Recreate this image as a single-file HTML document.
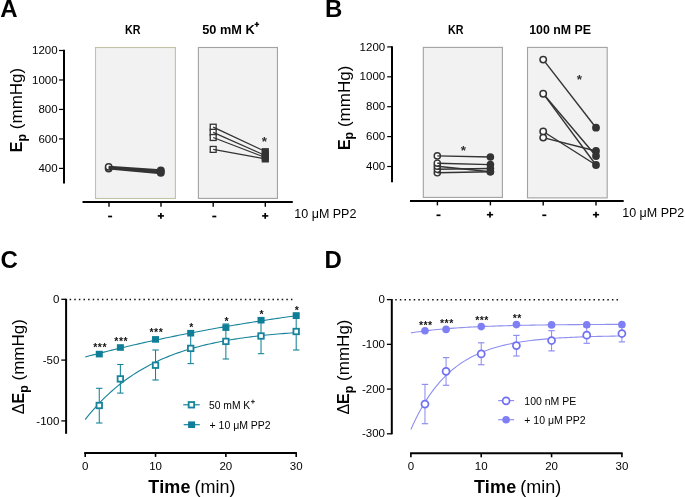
<!DOCTYPE html>
<html><head><meta charset="utf-8"><style>
html,body{margin:0;padding:0;background:#fff;}
svg{display:block;font-family:"Liberation Sans", sans-serif;}
</style></head><body>
<svg width="685" height="497" viewBox="0 0 685 497">
<rect width="685" height="497" fill="#fff"/>
<g opacity="0.999">
<text x="0.30" y="17.10" font-size="24" text-anchor="start" font-weight="bold" fill="#000" >A</text>
<line x1="64.00" y1="49.80" x2="64.00" y2="183.50" stroke="#000" stroke-width="2" />
<line x1="59.00" y1="168.40" x2="64.00" y2="168.40" stroke="#000" stroke-width="1.2" />
<text x="57.60" y="172.00" font-size="11.5" text-anchor="end" font-weight="normal" fill="#000" >400</text>
<line x1="59.00" y1="138.93" x2="64.00" y2="138.93" stroke="#000" stroke-width="1.2" />
<text x="57.60" y="142.53" font-size="11.5" text-anchor="end" font-weight="normal" fill="#000" >600</text>
<line x1="59.00" y1="109.45" x2="64.00" y2="109.45" stroke="#000" stroke-width="1.2" />
<text x="57.60" y="113.05" font-size="11.5" text-anchor="end" font-weight="normal" fill="#000" >800</text>
<line x1="59.00" y1="79.98" x2="64.00" y2="79.98" stroke="#000" stroke-width="1.2" />
<text x="57.60" y="83.58" font-size="11.5" text-anchor="end" font-weight="normal" fill="#000" >1000</text>
<line x1="59.00" y1="50.50" x2="64.00" y2="50.50" stroke="#000" stroke-width="1.2" />
<text x="57.60" y="54.10" font-size="11.5" text-anchor="end" font-weight="normal" fill="#000" >1200</text>
<rect x="95.5" y="47.5" width="79.9" height="151" fill="#f2f2f2" stroke="#c2c2a6" stroke-width="1.1"/>
<rect x="198.4" y="47.5" width="79.05" height="150.9" fill="#f2f2f2" stroke="#a2a2a2" stroke-width="1.1"/>
<text x="125.00" y="33.90" font-size="13" text-anchor="start" font-weight="bold" fill="#000" textLength="15.5" lengthAdjust="spacingAndGlyphs">KR</text>
<text x="202.20" y="33.90" font-size="13" text-anchor="start" font-weight="bold" fill="#000" textLength="52.5" lengthAdjust="spacingAndGlyphs">50 mM K</text>
<rect x="254.60" y="23.65" width="4.50" height="1.40" fill="#000"/>
<rect x="256.15" y="21.90" width="1.40" height="4.90" fill="#000"/>
<line x1="82.50" y1="202.00" x2="292.80" y2="202.00" stroke="#000" stroke-width="2" />
<line x1="109.00" y1="202.00" x2="109.00" y2="206.80" stroke="#000" stroke-width="1.4" />
<line x1="161.00" y1="202.00" x2="161.00" y2="206.80" stroke="#000" stroke-width="1.4" />
<line x1="213.20" y1="202.00" x2="213.20" y2="206.80" stroke="#000" stroke-width="1.4" />
<line x1="265.30" y1="202.00" x2="265.30" y2="206.80" stroke="#000" stroke-width="1.4" />
<rect x="108.10" y="215.65" width="4.00" height="1.70" fill="#000"/>
<rect x="157.80" y="215.10" width="6.20" height="1.60" fill="#000"/>
<rect x="160.05" y="213.00" width="1.70" height="5.80" fill="#000"/>
<rect x="212.30" y="215.65" width="4.00" height="1.70" fill="#000"/>
<rect x="262.10" y="215.10" width="6.20" height="1.60" fill="#000"/>
<rect x="264.35" y="213.00" width="1.70" height="5.80" fill="#000"/>
<text x="294.30" y="218.00" font-size="12.5" text-anchor="start" font-weight="normal" fill="#000" >10 &#956;M PP2</text>
<circle cx="108.7" cy="168.5" r="3.2" fill="#fbfbfb" stroke="#333" stroke-width="1.5"/>
<circle cx="108.7" cy="166.9" r="3.2" fill="#fbfbfb" stroke="#333" stroke-width="1.5"/>
<line x1="108.70" y1="166.80" x2="160.80" y2="170.30" stroke="#333" stroke-width="2.1" />
<line x1="108.70" y1="167.60" x2="160.80" y2="171.80" stroke="#333" stroke-width="2.1" />
<line x1="108.70" y1="168.50" x2="160.80" y2="173.30" stroke="#333" stroke-width="2.1" />
<circle cx="160.8" cy="170.5" r="4" fill="#333"/>
<circle cx="160.8" cy="172.8" r="4" fill="#333"/>
<rect x="210.25" y="124.25" width="5.9" height="5.9" fill="#fbfbfb" stroke="#333" stroke-width="1.3"/>
<rect x="210.25" y="129.35" width="5.9" height="5.9" fill="#fbfbfb" stroke="#333" stroke-width="1.3"/>
<rect x="210.25" y="134.55" width="5.9" height="5.9" fill="#fbfbfb" stroke="#333" stroke-width="1.3"/>
<rect x="210.25" y="146.45" width="5.9" height="5.9" fill="#fbfbfb" stroke="#333" stroke-width="1.3"/>
<line x1="213.20" y1="127.20" x2="265.30" y2="151.50" stroke="#333" stroke-width="1.3" />
<line x1="213.20" y1="132.30" x2="265.30" y2="155.50" stroke="#333" stroke-width="1.3" />
<line x1="213.20" y1="137.50" x2="265.30" y2="157.50" stroke="#333" stroke-width="1.3" />
<line x1="213.20" y1="149.40" x2="265.30" y2="158.80" stroke="#333" stroke-width="1.3" />
<rect x="261.70" y="148.10" width="7.20" height="7.20" fill="#333"/>
<rect x="261.70" y="150.90" width="7.20" height="7.20" fill="#333"/>
<rect x="261.70" y="153.40" width="7.20" height="7.20" fill="#333"/>
<rect x="261.70" y="155.30" width="7.20" height="7.20" fill="#333"/>
<text x="264.40" y="146.07" font-size="13.5" text-anchor="middle" font-weight="bold" fill="#333" letter-spacing="0">*</text>
<text transform="translate(22.2,152.2) rotate(-90)" font-size="17"><tspan font-weight="bold" font-size="16">E</tspan><tspan font-weight="bold" font-size="12.5" dy="3.3">p</tspan><tspan dy="-3.3"> (mmHg)</tspan></text>
<text x="325.00" y="17.00" font-size="24" text-anchor="start" font-weight="bold" fill="#000" >B</text>
<line x1="392.00" y1="46.20" x2="392.00" y2="182.20" stroke="#000" stroke-width="2" />
<line x1="387.20" y1="166.50" x2="392.00" y2="166.50" stroke="#000" stroke-width="1.2" />
<text x="385.20" y="170.10" font-size="11.5" text-anchor="end" font-weight="normal" fill="#000" >400</text>
<line x1="387.20" y1="136.60" x2="392.00" y2="136.60" stroke="#000" stroke-width="1.2" />
<text x="385.20" y="140.20" font-size="11.5" text-anchor="end" font-weight="normal" fill="#000" >600</text>
<line x1="387.20" y1="106.70" x2="392.00" y2="106.70" stroke="#000" stroke-width="1.2" />
<text x="385.20" y="110.30" font-size="11.5" text-anchor="end" font-weight="normal" fill="#000" >800</text>
<line x1="387.20" y1="76.80" x2="392.00" y2="76.80" stroke="#000" stroke-width="1.2" />
<text x="385.20" y="80.40" font-size="11.5" text-anchor="end" font-weight="normal" fill="#000" >1000</text>
<line x1="387.20" y1="46.90" x2="392.00" y2="46.90" stroke="#000" stroke-width="1.2" />
<text x="385.20" y="50.50" font-size="11.5" text-anchor="end" font-weight="normal" fill="#000" >1200</text>
<rect x="423.3" y="47.4" width="79.1" height="150" fill="#f2f2f2" stroke="#a2a2a2" stroke-width="1.1"/>
<rect x="527.5" y="47.4" width="79.7" height="150.5" fill="#f2f2f2" stroke="#a2a2a2" stroke-width="1.1"/>
<text x="447.90" y="34.20" font-size="13" text-anchor="start" font-weight="bold" fill="#000" textLength="15.5" lengthAdjust="spacingAndGlyphs">KR</text>
<text x="529.20" y="33.90" font-size="13" text-anchor="start" font-weight="bold" fill="#000" textLength="61.8" lengthAdjust="spacingAndGlyphs">100 nM PE</text>
<line x1="410.00" y1="200.90" x2="623.70" y2="200.90" stroke="#000" stroke-width="2" />
<line x1="437.40" y1="200.90" x2="437.40" y2="205.40" stroke="#000" stroke-width="1.4" />
<line x1="490.40" y1="200.90" x2="490.40" y2="205.40" stroke="#000" stroke-width="1.4" />
<line x1="543.20" y1="200.90" x2="543.20" y2="205.40" stroke="#000" stroke-width="1.4" />
<line x1="596.00" y1="200.90" x2="596.00" y2="205.40" stroke="#000" stroke-width="1.4" />
<rect x="436.50" y="214.45" width="4.00" height="1.70" fill="#000"/>
<rect x="486.90" y="213.90" width="6.20" height="1.60" fill="#000"/>
<rect x="489.15" y="211.80" width="1.70" height="5.80" fill="#000"/>
<rect x="542.30" y="214.45" width="4.00" height="1.70" fill="#000"/>
<rect x="592.90" y="213.90" width="6.20" height="1.60" fill="#000"/>
<rect x="595.15" y="211.80" width="1.70" height="5.80" fill="#000"/>
<text x="622.20" y="216.70" font-size="12.5" text-anchor="start" font-weight="normal" fill="#000" >10 &#956;M PP2</text>
<circle cx="437.3" cy="172.8" r="3.1" fill="#fbfbfb" stroke="#333" stroke-width="1.4"/>
<circle cx="437.3" cy="169.3" r="3.1" fill="#fbfbfb" stroke="#333" stroke-width="1.4"/>
<circle cx="437.3" cy="166.3" r="3.1" fill="#fbfbfb" stroke="#333" stroke-width="1.4"/>
<circle cx="437.3" cy="163.2" r="3.1" fill="#fbfbfb" stroke="#333" stroke-width="1.4"/>
<circle cx="437.3" cy="155.9" r="3.1" fill="#fbfbfb" stroke="#333" stroke-width="1.4"/>
<line x1="437.30" y1="155.90" x2="490.40" y2="157.00" stroke="#333" stroke-width="1.4" />
<line x1="437.30" y1="163.20" x2="490.40" y2="164.60" stroke="#333" stroke-width="1.4" />
<line x1="437.30" y1="166.30" x2="490.40" y2="171.80" stroke="#333" stroke-width="1.4" />
<line x1="437.30" y1="169.30" x2="490.40" y2="168.50" stroke="#333" stroke-width="1.4" />
<line x1="437.30" y1="172.80" x2="490.40" y2="171.80" stroke="#333" stroke-width="1.4" />
<circle cx="490.4" cy="157" r="3.8" fill="#333"/>
<circle cx="490.4" cy="164.6" r="3.8" fill="#333"/>
<circle cx="490.4" cy="171.8" r="3.8" fill="#333"/>
<circle cx="490.4" cy="168.5" r="3.8" fill="#333"/>
<circle cx="490.4" cy="171.8" r="3.8" fill="#333"/>
<text x="463.30" y="155.27" font-size="13.5" text-anchor="middle" font-weight="bold" fill="#333" letter-spacing="0">*</text>
<line x1="543.20" y1="59.60" x2="596.00" y2="127.70" stroke="#333" stroke-width="1.4" />
<line x1="543.20" y1="93.70" x2="596.00" y2="156.00" stroke="#333" stroke-width="1.4" />
<line x1="543.20" y1="93.70" x2="596.00" y2="165.00" stroke="#333" stroke-width="1.4" />
<line x1="543.20" y1="131.50" x2="596.00" y2="165.00" stroke="#333" stroke-width="1.4" />
<line x1="543.20" y1="137.60" x2="596.00" y2="151.00" stroke="#333" stroke-width="1.4" />
<circle cx="543.2" cy="59.6" r="3.2" fill="#fbfbfb" stroke="#333" stroke-width="1.5"/>
<circle cx="543.2" cy="93.7" r="3.2" fill="#fbfbfb" stroke="#333" stroke-width="1.5"/>
<circle cx="543.2" cy="131.5" r="3.2" fill="#fbfbfb" stroke="#333" stroke-width="1.5"/>
<circle cx="543.2" cy="137.6" r="3.2" fill="#fbfbfb" stroke="#333" stroke-width="1.5"/>
<circle cx="596" cy="127.7" r="3.9" fill="#333"/>
<circle cx="596" cy="151" r="3.9" fill="#333"/>
<circle cx="596" cy="156" r="3.9" fill="#333"/>
<circle cx="596" cy="165" r="3.9" fill="#333"/>
<text x="579.40" y="84.17" font-size="13.5" text-anchor="middle" font-weight="bold" fill="#333" letter-spacing="0">*</text>
<text transform="translate(349.6,150.1) rotate(-90)" font-size="17"><tspan font-weight="bold" font-size="16">E</tspan><tspan font-weight="bold" font-size="12.5" dy="3.3">p</tspan><tspan dy="-3.3"> (mmHg)</tspan></text>
<text x="0.40" y="267.80" font-size="24" text-anchor="start" font-weight="bold" fill="#000" >C</text>
<line x1="66.10" y1="298.80" x2="66.10" y2="433.80" stroke="#000" stroke-width="2" />
<line x1="61.30" y1="299.30" x2="66.10" y2="299.30" stroke="#000" stroke-width="1.3" />
<text x="59.40" y="302.90" font-size="11.5" text-anchor="end" font-weight="normal" fill="#000" >0</text>
<line x1="61.30" y1="360.10" x2="66.10" y2="360.10" stroke="#000" stroke-width="1.3" />
<text x="59.40" y="363.70" font-size="11.5" text-anchor="end" font-weight="normal" fill="#000" >-50</text>
<line x1="61.30" y1="420.90" x2="66.10" y2="420.90" stroke="#000" stroke-width="1.3" />
<text x="59.40" y="424.50" font-size="11.5" text-anchor="end" font-weight="normal" fill="#000" >-100</text>
<line x1="69.65" y1="299.4" x2="292.55" y2="299.4" stroke="#111" stroke-width="1.5" stroke-dasharray="1.5 3.11"/>
<line x1="84.20" y1="453.10" x2="296.90" y2="453.10" stroke="#000" stroke-width="2" />
<line x1="85.20" y1="453.00" x2="85.20" y2="456.90" stroke="#000" stroke-width="1.6" />
<text x="85.20" y="469.60" font-size="11.5" text-anchor="middle" font-weight="normal" fill="#000" >0</text>
<line x1="155.53" y1="453.00" x2="155.53" y2="456.90" stroke="#000" stroke-width="1.6" />
<text x="155.53" y="469.60" font-size="11.5" text-anchor="middle" font-weight="normal" fill="#000" >10</text>
<line x1="225.87" y1="453.00" x2="225.87" y2="456.90" stroke="#000" stroke-width="1.6" />
<text x="225.87" y="469.60" font-size="11.5" text-anchor="middle" font-weight="normal" fill="#000" >20</text>
<line x1="296.20" y1="453.00" x2="296.20" y2="456.90" stroke="#000" stroke-width="1.6" />
<text x="296.20" y="469.60" font-size="11.5" text-anchor="middle" font-weight="normal" fill="#000" >30</text>
<text x="148.3" y="492.5" font-size="18"><tspan font-weight="bold" letter-spacing="0.2">Time</tspan><tspan dx="-1.2"> (min)</tspan></text>
<text transform="translate(24.4,414.2) rotate(-90)" font-size="17"><tspan font-size="16">&#916;</tspan><tspan font-weight="bold" font-size="16">E</tspan><tspan font-weight="bold" font-size="12.5" dy="3.3">p</tspan><tspan dy="-3.3"> (mmHg)</tspan></text>
<polyline points="85.20,419.57 87.87,416.21 90.54,412.97 93.21,409.84 95.88,406.83 98.55,403.94 101.23,401.15 103.90,398.46 106.57,395.87 109.24,393.37 111.91,390.97 114.58,388.65 117.25,386.42 119.92,384.27 122.59,382.20 125.26,380.21 127.93,378.29 130.61,376.44 133.28,374.65 135.95,372.94 138.62,371.28 141.29,369.69 143.96,368.15 146.63,366.67 149.30,365.25 151.97,363.87 154.64,362.55 157.31,361.28 159.98,360.05 162.66,358.87 165.33,357.73 168.00,356.63 170.67,355.58 173.34,354.56 176.01,353.58 178.68,352.63 181.35,351.72 184.02,350.85 186.69,350.00 189.36,349.19 192.04,348.40 194.71,347.65 197.38,346.92 200.05,346.22 202.72,345.55 205.39,344.90 208.06,344.27 210.73,343.67 213.40,343.09 216.07,342.53 218.74,341.99 221.42,341.47 224.09,340.97 226.76,340.48 229.43,340.02 232.10,339.57 234.77,339.14 237.44,338.72 240.11,338.32 242.78,337.94 245.45,337.57 248.12,337.21 250.79,336.87 253.47,336.53 256.14,336.21 258.81,335.91 261.48,335.61 264.15,335.32 266.82,335.05 269.49,334.78 272.16,334.53 274.83,334.28 277.50,334.04 280.17,333.82 282.85,333.59 285.52,333.38 288.19,333.18 290.86,332.98 293.53,332.79 296.20,332.61" fill="none" stroke="#15839a" stroke-width="1.1"/>
<polyline points="85.20,357.00 87.87,356.29 90.54,355.58 93.21,354.88 95.88,354.19 98.55,353.50 101.23,352.82 103.90,352.15 106.57,351.48 109.24,350.81 111.91,350.15 114.58,349.50 117.25,348.85 119.92,348.21 122.59,347.57 125.26,346.94 127.93,346.31 130.61,345.69 133.28,345.07 135.95,344.46 138.62,343.85 141.29,343.25 143.96,342.65 146.63,342.06 149.30,341.48 151.97,340.89 154.64,340.32 157.31,339.74 159.98,339.18 162.66,338.61 165.33,338.06 168.00,337.50 170.67,336.95 173.34,336.41 176.01,335.87 178.68,335.33 181.35,334.80 184.02,334.28 186.69,333.75 189.36,333.24 192.04,332.72 194.71,332.21 197.38,331.71 200.05,331.21 202.72,330.71 205.39,330.22 208.06,329.73 210.73,329.24 213.40,328.76 216.07,328.29 218.74,327.81 221.42,327.34 224.09,326.88 226.76,326.42 229.43,325.96 232.10,325.51 234.77,325.06 237.44,324.61 240.11,324.17 242.78,323.73 245.45,323.30 248.12,322.86 250.79,322.44 253.47,322.01 256.14,321.59 258.81,321.17 261.48,320.76 264.15,320.35 266.82,319.94 269.49,319.54 272.16,319.14 274.83,318.74 277.50,318.35 280.17,317.96 282.85,317.57 285.52,317.19 288.19,316.80 290.86,316.43 293.53,316.05 296.20,315.68" fill="none" stroke="#15839a" stroke-width="1.1"/>
<line x1="99.27" y1="388.30" x2="99.27" y2="423.00" stroke="#15839a" stroke-width="1.05" />
<line x1="96.07" y1="388.30" x2="102.47" y2="388.30" stroke="#15839a" stroke-width="1.1" />
<line x1="96.07" y1="423.00" x2="102.47" y2="423.00" stroke="#15839a" stroke-width="1.1" />
<line x1="120.37" y1="364.50" x2="120.37" y2="393.10" stroke="#15839a" stroke-width="1.05" />
<line x1="117.17" y1="364.50" x2="123.57" y2="364.50" stroke="#15839a" stroke-width="1.1" />
<line x1="117.17" y1="393.10" x2="123.57" y2="393.10" stroke="#15839a" stroke-width="1.1" />
<line x1="155.53" y1="350.00" x2="155.53" y2="380.00" stroke="#15839a" stroke-width="1.05" />
<line x1="152.33" y1="350.00" x2="158.73" y2="350.00" stroke="#15839a" stroke-width="1.1" />
<line x1="152.33" y1="380.00" x2="158.73" y2="380.00" stroke="#15839a" stroke-width="1.1" />
<line x1="190.70" y1="333.00" x2="190.70" y2="363.60" stroke="#15839a" stroke-width="1.05" />
<line x1="187.50" y1="333.00" x2="193.90" y2="333.00" stroke="#15839a" stroke-width="1.1" />
<line x1="187.50" y1="363.60" x2="193.90" y2="363.60" stroke="#15839a" stroke-width="1.1" />
<line x1="225.87" y1="324.00" x2="225.87" y2="359.00" stroke="#15839a" stroke-width="1.05" />
<line x1="222.67" y1="324.00" x2="229.07" y2="324.00" stroke="#15839a" stroke-width="1.1" />
<line x1="222.67" y1="359.00" x2="229.07" y2="359.00" stroke="#15839a" stroke-width="1.1" />
<line x1="261.03" y1="318.00" x2="261.03" y2="353.70" stroke="#15839a" stroke-width="1.05" />
<line x1="257.83" y1="318.00" x2="264.23" y2="318.00" stroke="#15839a" stroke-width="1.1" />
<line x1="257.83" y1="353.70" x2="264.23" y2="353.70" stroke="#15839a" stroke-width="1.1" />
<line x1="296.20" y1="313.00" x2="296.20" y2="350.00" stroke="#15839a" stroke-width="1.05" />
<line x1="293.00" y1="313.00" x2="299.40" y2="313.00" stroke="#15839a" stroke-width="1.1" />
<line x1="293.00" y1="350.00" x2="299.40" y2="350.00" stroke="#15839a" stroke-width="1.1" />
<rect x="96.52" y="402.75" width="5.5" height="5.5" fill="#fff" stroke="#15839a" stroke-width="1.8"/>
<rect x="117.62" y="376.15" width="5.5" height="5.5" fill="#fff" stroke="#15839a" stroke-width="1.8"/>
<rect x="152.78" y="362.45" width="5.5" height="5.5" fill="#fff" stroke="#15839a" stroke-width="1.8"/>
<rect x="187.95" y="345.65" width="5.5" height="5.5" fill="#fff" stroke="#15839a" stroke-width="1.8"/>
<rect x="223.12" y="338.65" width="5.5" height="5.5" fill="#fff" stroke="#15839a" stroke-width="1.8"/>
<rect x="258.28" y="333.25" width="5.5" height="5.5" fill="#fff" stroke="#15839a" stroke-width="1.8"/>
<rect x="293.45" y="328.75" width="5.5" height="5.5" fill="#fff" stroke="#15839a" stroke-width="1.8"/>
<rect x="95.77" y="350.80" width="7.00" height="6.60" fill="#0f7e97"/>
<rect x="116.87" y="344.20" width="7.00" height="6.60" fill="#0f7e97"/>
<rect x="152.03" y="336.10" width="7.00" height="6.60" fill="#0f7e97"/>
<rect x="187.20" y="329.90" width="7.00" height="6.60" fill="#0f7e97"/>
<rect x="222.37" y="324.30" width="7.00" height="6.60" fill="#0f7e97"/>
<rect x="257.53" y="316.90" width="7.00" height="6.60" fill="#0f7e97"/>
<rect x="292.70" y="312.40" width="7.00" height="6.60" fill="#0f7e97"/>
<text x="100.12" y="351.11" font-size="10.5" text-anchor="middle" font-weight="bold" fill="#111" letter-spacing="0.5">***</text>
<text x="121.22" y="344.51" font-size="10.5" text-anchor="middle" font-weight="bold" fill="#111" letter-spacing="0.5">***</text>
<text x="156.38" y="336.41" font-size="10.5" text-anchor="middle" font-weight="bold" fill="#111" letter-spacing="0.5">***</text>
<text x="191.55" y="331.01" font-size="10.5" text-anchor="middle" font-weight="bold" fill="#111" letter-spacing="0.5">*</text>
<text x="226.72" y="325.41" font-size="10.5" text-anchor="middle" font-weight="bold" fill="#111" letter-spacing="0.5">*</text>
<text x="261.88" y="318.01" font-size="10.5" text-anchor="middle" font-weight="bold" fill="#111" letter-spacing="0.5">*</text>
<text x="297.05" y="313.51" font-size="10.5" text-anchor="middle" font-weight="bold" fill="#111" letter-spacing="0.5">*</text>
<line x1="183.20" y1="404.80" x2="199.70" y2="404.80" stroke="#15839a" stroke-width="1.2" />
<rect x="188.65" y="402.05" width="5.5" height="5.5" fill="#fff" stroke="#15839a" stroke-width="1.8"/>
<text x="209.00" y="409.20" font-size="10.3" text-anchor="start" font-weight="normal" fill="#000" >50 mM K</text>
<rect x="250.95" y="401.15" width="3.90" height="1.00" fill="#222"/>
<rect x="252.40" y="399.70" width="1.00" height="3.90" fill="#222"/>
<line x1="183.70" y1="424.70" x2="199.80" y2="424.70" stroke="#15839a" stroke-width="1.2" />
<rect x="188.10" y="421.40" width="7.00" height="6.60" fill="#0f7e97"/>
<text x="209.50" y="428.60" font-size="10.5" text-anchor="start" font-weight="normal" fill="#000" >+ 10 &#956;M PP2</text>
<text x="324.50" y="267.80" font-size="24" text-anchor="start" font-weight="bold" fill="#000" >D</text>
<line x1="391.80" y1="299.00" x2="391.80" y2="434.30" stroke="#000" stroke-width="2" />
<line x1="386.90" y1="299.60" x2="391.80" y2="299.60" stroke="#000" stroke-width="1.3" />
<text x="385.00" y="303.20" font-size="11.5" text-anchor="end" font-weight="normal" fill="#000" >0</text>
<line x1="386.90" y1="344.33" x2="391.80" y2="344.33" stroke="#000" stroke-width="1.3" />
<text x="385.00" y="347.93" font-size="11.5" text-anchor="end" font-weight="normal" fill="#000" >-100</text>
<line x1="386.90" y1="389.07" x2="391.80" y2="389.07" stroke="#000" stroke-width="1.3" />
<text x="385.00" y="392.67" font-size="11.5" text-anchor="end" font-weight="normal" fill="#000" >-200</text>
<line x1="386.90" y1="433.80" x2="391.80" y2="433.80" stroke="#000" stroke-width="1.3" />
<text x="385.00" y="437.40" font-size="11.5" text-anchor="end" font-weight="normal" fill="#000" >-300</text>
<line x1="395.25" y1="299.7" x2="618.25" y2="299.7" stroke="#111" stroke-width="1.5" stroke-dasharray="1.5 3.11"/>
<line x1="410.10" y1="453.20" x2="622.60" y2="453.20" stroke="#000" stroke-width="2" />
<line x1="410.90" y1="453.00" x2="410.90" y2="457.30" stroke="#000" stroke-width="1.6" />
<text x="410.90" y="469.60" font-size="11.5" text-anchor="middle" font-weight="normal" fill="#000" >0</text>
<line x1="481.23" y1="453.00" x2="481.23" y2="457.30" stroke="#000" stroke-width="1.6" />
<text x="481.23" y="469.60" font-size="11.5" text-anchor="middle" font-weight="normal" fill="#000" >10</text>
<line x1="551.57" y1="453.00" x2="551.57" y2="457.30" stroke="#000" stroke-width="1.6" />
<text x="551.57" y="469.60" font-size="11.5" text-anchor="middle" font-weight="normal" fill="#000" >20</text>
<line x1="621.90" y1="453.00" x2="621.90" y2="457.30" stroke="#000" stroke-width="1.6" />
<text x="621.90" y="469.60" font-size="11.5" text-anchor="middle" font-weight="normal" fill="#000" >30</text>
<text x="474" y="492.5" font-size="18"><tspan font-weight="bold" letter-spacing="0.2">Time</tspan><tspan dx="-1.2"> (min)</tspan></text>
<text transform="translate(349.2,414.6) rotate(-90)" font-size="17"><tspan font-size="16">&#916;</tspan><tspan font-weight="bold" font-size="16">E</tspan><tspan font-weight="bold" font-size="12.5" dy="3.3">p</tspan><tspan dy="-3.3"> (mmHg)</tspan></text>
<polyline points="410.90,429.47 413.57,423.56 416.24,418.02 418.91,412.83 421.58,407.97 424.25,403.41 426.93,399.14 429.60,395.14 432.27,391.38 434.94,387.87 437.61,384.57 440.28,381.48 442.95,378.59 445.62,375.88 448.29,373.34 450.96,370.95 453.63,368.72 456.31,366.63 458.98,364.67 461.65,362.83 464.32,361.11 466.99,359.49 469.66,357.98 472.33,356.56 475.00,355.24 477.67,353.99 480.34,352.82 483.01,351.73 485.68,350.71 488.36,349.75 491.03,348.85 493.70,348.00 496.37,347.21 499.04,346.47 501.71,345.78 504.38,345.13 507.05,344.52 509.72,343.94 512.39,343.41 515.06,342.91 517.74,342.44 520.41,342.00 523.08,341.58 525.75,341.20 528.42,340.83 531.09,340.49 533.76,340.17 536.43,339.88 539.10,339.60 541.77,339.33 544.44,339.09 547.12,338.86 549.79,338.64 552.46,338.44 555.13,338.25 557.80,338.07 560.47,337.91 563.14,337.75 565.81,337.60 568.48,337.47 571.15,337.34 573.82,337.22 576.49,337.10 579.17,337.00 581.84,336.90 584.51,336.81 587.18,336.72 589.85,336.64 592.52,336.56 595.19,336.49 597.86,336.42 600.53,336.36 603.20,336.30 605.87,336.25 608.55,336.19 611.22,336.15 613.89,336.10 616.56,336.06 619.23,336.02 621.90,335.98" fill="none" stroke="#8f8ff0" stroke-width="1.1"/>
<polyline points="410.90,332.87 413.57,332.46 416.24,332.07 418.91,331.69 421.58,331.34 424.25,330.99 426.93,330.67 429.60,330.36 432.27,330.07 434.94,329.79 437.61,329.52 440.28,329.27 442.95,329.03 445.62,328.79 448.29,328.58 450.96,328.37 453.63,328.17 456.31,327.98 458.98,327.80 461.65,327.62 464.32,327.46 466.99,327.30 469.66,327.16 472.33,327.01 475.00,326.88 477.67,326.75 480.34,326.63 483.01,326.51 485.68,326.40 488.36,326.29 491.03,326.19 493.70,326.10 496.37,326.01 499.04,325.92 501.71,325.84 504.38,325.76 507.05,325.68 509.72,325.61 512.39,325.54 515.06,325.48 517.74,325.41 520.41,325.36 523.08,325.30 525.75,325.25 528.42,325.19 531.09,325.15 533.76,325.10 536.43,325.06 539.10,325.01 541.77,324.97 544.44,324.94 547.12,324.90 549.79,324.87 552.46,324.83 555.13,324.80 557.80,324.77 560.47,324.74 563.14,324.72 565.81,324.69 568.48,324.67 571.15,324.64 573.82,324.62 576.49,324.60 579.17,324.58 581.84,324.56 584.51,324.54 587.18,324.52 589.85,324.51 592.52,324.49 595.19,324.48 597.86,324.46 600.53,324.45 603.20,324.43 605.87,324.42 608.55,324.41 611.22,324.40 613.89,324.39 616.56,324.38 619.23,324.37 621.90,324.36" fill="none" stroke="#8f8ff0" stroke-width="1.1"/>
<line x1="424.97" y1="384.40" x2="424.97" y2="423.70" stroke="#8f8ff0" stroke-width="1.05" />
<line x1="421.77" y1="384.40" x2="428.17" y2="384.40" stroke="#8f8ff0" stroke-width="1.2" />
<line x1="421.77" y1="423.70" x2="428.17" y2="423.70" stroke="#8f8ff0" stroke-width="1.2" />
<line x1="446.07" y1="357.60" x2="446.07" y2="385.30" stroke="#8f8ff0" stroke-width="1.05" />
<line x1="442.87" y1="357.60" x2="449.27" y2="357.60" stroke="#8f8ff0" stroke-width="1.2" />
<line x1="442.87" y1="385.30" x2="449.27" y2="385.30" stroke="#8f8ff0" stroke-width="1.2" />
<line x1="481.23" y1="342.80" x2="481.23" y2="364.70" stroke="#8f8ff0" stroke-width="1.05" />
<line x1="478.03" y1="342.80" x2="484.43" y2="342.80" stroke="#8f8ff0" stroke-width="1.2" />
<line x1="478.03" y1="364.70" x2="484.43" y2="364.70" stroke="#8f8ff0" stroke-width="1.2" />
<line x1="516.40" y1="335.40" x2="516.40" y2="356.00" stroke="#8f8ff0" stroke-width="1.05" />
<line x1="513.20" y1="335.40" x2="519.60" y2="335.40" stroke="#8f8ff0" stroke-width="1.2" />
<line x1="513.20" y1="356.00" x2="519.60" y2="356.00" stroke="#8f8ff0" stroke-width="1.2" />
<line x1="551.57" y1="330.70" x2="551.57" y2="350.90" stroke="#8f8ff0" stroke-width="1.05" />
<line x1="548.37" y1="330.70" x2="554.77" y2="330.70" stroke="#8f8ff0" stroke-width="1.2" />
<line x1="548.37" y1="350.90" x2="554.77" y2="350.90" stroke="#8f8ff0" stroke-width="1.2" />
<line x1="586.73" y1="327.00" x2="586.73" y2="343.30" stroke="#8f8ff0" stroke-width="1.05" />
<line x1="583.53" y1="327.00" x2="589.93" y2="327.00" stroke="#8f8ff0" stroke-width="1.2" />
<line x1="583.53" y1="343.30" x2="589.93" y2="343.30" stroke="#8f8ff0" stroke-width="1.2" />
<line x1="621.90" y1="327.00" x2="621.90" y2="341.90" stroke="#8f8ff0" stroke-width="1.05" />
<line x1="618.70" y1="327.00" x2="625.10" y2="327.00" stroke="#8f8ff0" stroke-width="1.2" />
<line x1="618.70" y1="341.90" x2="625.10" y2="341.90" stroke="#8f8ff0" stroke-width="1.2" />
<circle cx="424.97" cy="404.10" r="3.5" fill="#fff" stroke="#7070f2" stroke-width="1.75"/>
<circle cx="446.07" cy="371.30" r="3.5" fill="#fff" stroke="#7070f2" stroke-width="1.75"/>
<circle cx="481.23" cy="353.90" r="3.5" fill="#fff" stroke="#7070f2" stroke-width="1.75"/>
<circle cx="516.40" cy="345.60" r="3.5" fill="#fff" stroke="#7070f2" stroke-width="1.75"/>
<circle cx="551.57" cy="340.50" r="3.5" fill="#fff" stroke="#7070f2" stroke-width="1.75"/>
<circle cx="586.73" cy="335.20" r="3.5" fill="#fff" stroke="#7070f2" stroke-width="1.75"/>
<circle cx="621.90" cy="333.50" r="3.5" fill="#fff" stroke="#7070f2" stroke-width="1.75"/>
<circle cx="424.97" cy="330.70" r="3.8" fill="#7f7ff5"/>
<circle cx="446.07" cy="329.40" r="3.8" fill="#7f7ff5"/>
<circle cx="481.23" cy="326.60" r="3.8" fill="#7f7ff5"/>
<circle cx="516.40" cy="324.60" r="3.8" fill="#7f7ff5"/>
<circle cx="551.57" cy="324.90" r="3.8" fill="#7f7ff5"/>
<circle cx="586.73" cy="324.70" r="3.8" fill="#7f7ff5"/>
<circle cx="621.90" cy="324.60" r="3.8" fill="#7f7ff5"/>
<text x="425.82" y="328.51" font-size="10.5" text-anchor="middle" font-weight="bold" fill="#111" letter-spacing="0.5">***</text>
<text x="446.92" y="327.21" font-size="10.5" text-anchor="middle" font-weight="bold" fill="#111" letter-spacing="0.5">***</text>
<text x="482.08" y="324.41" font-size="10.5" text-anchor="middle" font-weight="bold" fill="#111" letter-spacing="0.5">***</text>
<text x="517.25" y="322.41" font-size="10.5" text-anchor="middle" font-weight="bold" fill="#111" letter-spacing="0.5">**</text>
<line x1="498.20" y1="400.60" x2="514.10" y2="400.60" stroke="#8f8ff0" stroke-width="1.2" />
<circle cx="506.1" cy="400.8" r="3.5" fill="#fff" stroke="#7070f2" stroke-width="1.75"/>
<text x="524.30" y="404.50" font-size="10.5" text-anchor="start" font-weight="normal" fill="#000" >100 nM PE</text>
<line x1="498.20" y1="419.70" x2="514.10" y2="419.70" stroke="#8f8ff0" stroke-width="1.2" />
<circle cx="506.1" cy="419.7" r="3.8" fill="#7f7ff5"/>
<text x="524.30" y="423.60" font-size="10.5" text-anchor="start" font-weight="normal" fill="#000" >+ 10 &#956;M PP2</text>
</g>
</svg></body></html>
